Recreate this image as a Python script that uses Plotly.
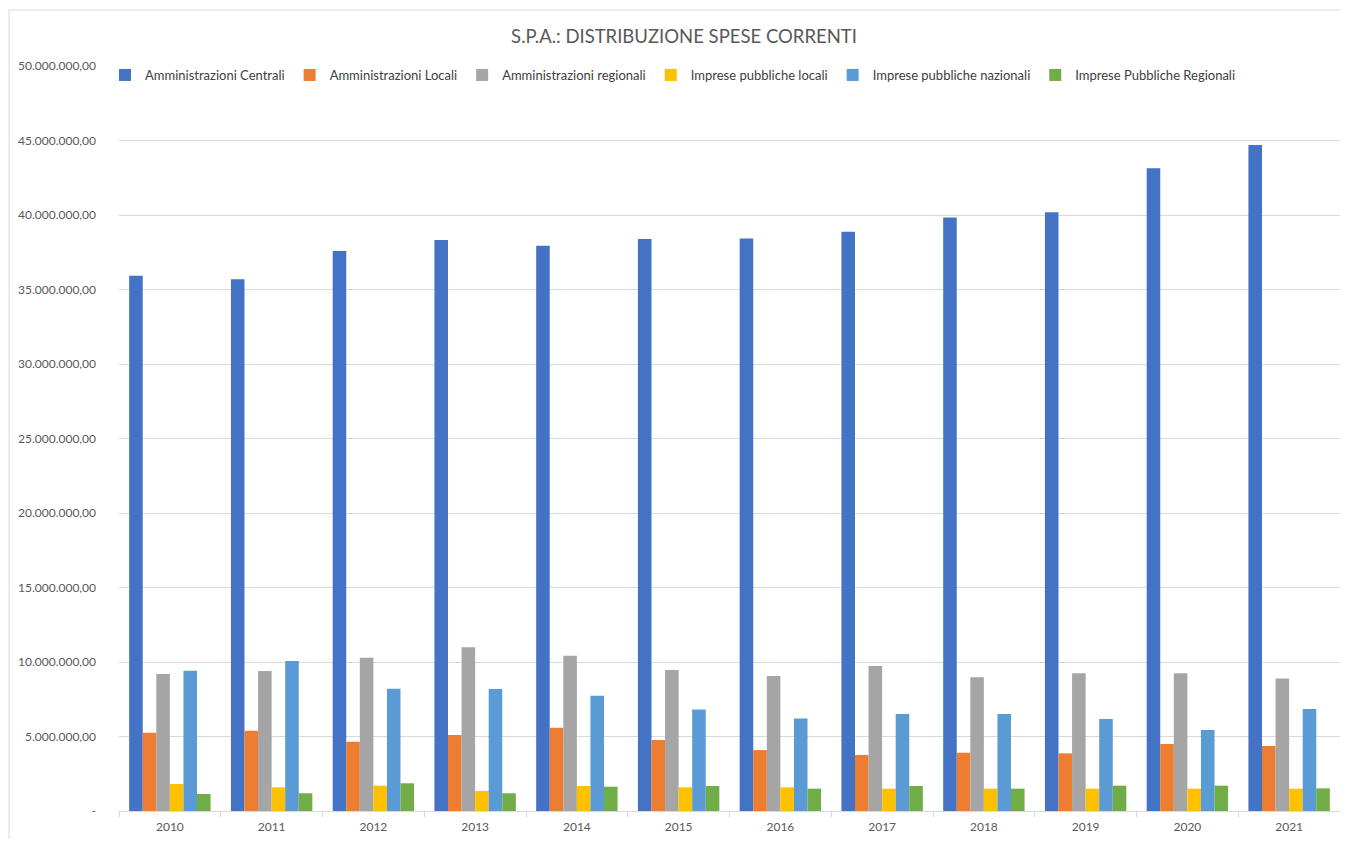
import plotly.graph_objects as go

years = ["2010", "2011", "2012", "2013", "2014", "2015", "2016", "2017", "2018", "2019", "2020", "2021"]

amm_centrali = [35930000, 35680000, 37580000, 38320000, 37940000, 38390000, 38430000, 38880000, 39840000, 40180000, 43130000, 44700000]
amm_locali = [5260000, 5390000, 4650000, 5100000, 5590000, 4770000, 4090000, 3760000, 3910000, 3870000, 4500000, 4360000]
amm_regionali = [9190000, 9400000, 10290000, 10990000, 10420000, 9460000, 9060000, 9730000, 8970000, 9240000, 9240000, 8900000]
imp_pub_locali = [1810000, 1590000, 1700000, 1340000, 1680000, 1590000, 1590000, 1500000, 1500000, 1500000, 1500000, 1500000]
imp_pub_nazionali = [9420000, 10070000, 8210000, 8190000, 7740000, 6820000, 6200000, 6510000, 6510000, 6170000, 5440000, 6850000]
imp_pub_regionali = [1140000, 1190000, 1860000, 1190000, 1630000, 1680000, 1500000, 1680000, 1500000, 1700000, 1700000, 1520000]

series_names = ["Amministrazioni Centrali", "Amministrazioni Locali", "Amministrazioni regionali",
                "Imprese pubbliche locali", "Imprese pubbliche nazionali", "Imprese Pubbliche Regionali"]
series_values = [amm_centrali, amm_locali, amm_regionali, imp_pub_locali, imp_pub_nazionali, imp_pub_regionali]
series_colors = ["#4472C4", "#ED7D31", "#A5A5A5", "#FFC000", "#5B9BD5", "#70AD47"]

y_tickvals = [0, 5000000, 10000000, 15000000, 20000000, 25000000, 30000000, 35000000, 40000000, 45000000, 50000000]
y_ticktext = ["-", "5.000.000,00", "10.000.000,00", "15.000.000,00", "20.000.000,00", "25.000.000,00",
              "30.000.000,00", "35.000.000,00", "40.000.000,00", "45.000.000,00", "50.000.000,00"]

title_text = "S.P.A.: DISTRIBUZIONE SPESE CORRENTI"

W, H = 1332, 831
ML, MR, MT, MB = 111, 0, 58, 28
PW, PH = W - ML - MR, H - MT - MB

fig = go.Figure()
for name, vals, col in zip(series_names, series_values, series_colors):
    fig.add_trace(go.Bar(x=years, y=vals, name=name, marker=dict(color=col, line=dict(width=0))))

FONT = "Lato, 'Open Sans', sans-serif"
fig.update_layout(
    width=W, height=H,
    paper_bgcolor="white", plot_bgcolor="white",
    margin=dict(l=ML, r=MR, t=MT, b=MB, autoexpand=False),
    barmode="group", bargap=0.2, bargroupgap=0,
    font=dict(family=FONT, size=12, color="#595959"),
    title=dict(text=title_text, x=(676 - ML) / PW, xanchor="center", xref="paper",
               y=1 - 29 / H, yanchor="middle", font=dict(family=FONT, size=18.5, color="#595959")),
    legend=dict(orientation="h", x=(97 - ML) / PW, xanchor="left", y=1 + (MT - 52) / PH, yanchor="top",
                bgcolor="rgba(0,0,0,0)", font=dict(family=FONT, size=13, color="#404040"),
                itemwidth=30, traceorder="normal"),
    showlegend=True,
)
fig.update_xaxes(type="category", showgrid=False, showline=True, linecolor="#D9D9D9", linewidth=1,
                 ticks="outside", tickson="boundaries", ticklen=5, tickcolor="#D9D9D9",
                 ticklabelstandoff=5,
                 tickfont=dict(family=FONT, size=12, color="#595959"))
fig.update_yaxes(range=[0, 50000000], tickvals=y_tickvals, ticktext=y_ticktext,
                 showgrid=True, gridcolor="#D9D9D9", gridwidth=1, zeroline=False, showline=False,
                 ticks="", ticklabelstandoff=22,
                 tickfont=dict(family=FONT, size=12, color="#595959"))

# chart-area border (left and top edges only; the rest falls outside the page)
bx0 = (1 - ML) / PW
by1 = 1 + (MT - 2) / PH
fig.add_shape(type="line", xref="paper", yref="paper", x0=bx0, x1=bx0, y0=-(MB + 60) / PH, y1=by1,
              line=dict(color="#D9D9D9", width=1), layer="below")
fig.add_shape(type="line", xref="paper", yref="paper", x0=bx0, x1=1 + 60 / PW, y0=by1, y1=by1,
              line=dict(color="#D9D9D9", width=1), layer="below")

fig.write_html("out.html")
